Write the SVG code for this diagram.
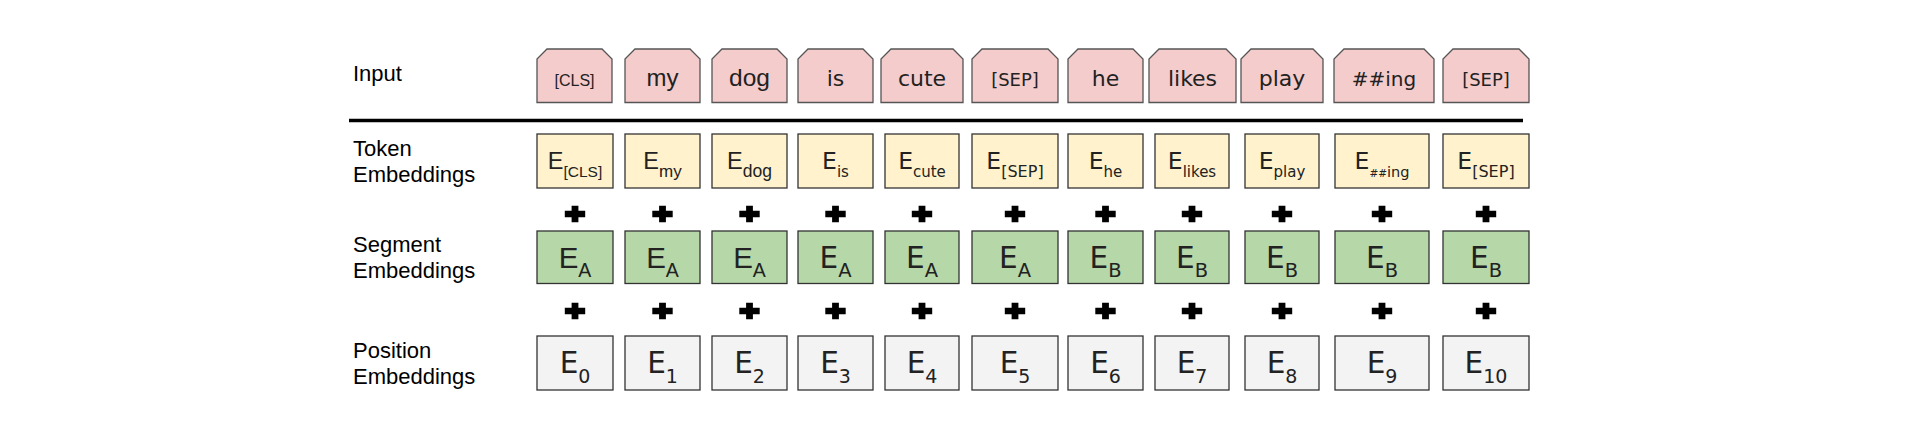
<svg xmlns="http://www.w3.org/2000/svg" xmlns:xlink="http://www.w3.org/1999/xlink" width="1918" height="422" viewBox="0 0 1918 422">
<style>
.lbl{font-family:"Liberation Sans",Arial,sans-serif;font-size:22px;fill:#000}
.inp{fill:#f4cccc;stroke:#555;stroke-width:1.3}
.tok{fill:#fff2cc;stroke:#333;stroke-width:1.3}
.seg{fill:#b6d7a8;stroke:#333;stroke-width:1.3}
.pos{fill:#f3f3f3;stroke:#333;stroke-width:1.3}
.a{font-family:"Liberation Sans",Arial,sans-serif;fill:#222;text-anchor:middle}
.d{font-family:"DejaVu Sans",Verdana,sans-serif;fill:#222;text-anchor:middle}
.w{font-size:22px}
.sep{font-size:18px}
.te{font-size:23.5px}
.ts{font-size:15px}
.ta{font-size:16px}
.se{font-size:29.5px}
.ss{font-size:19.5px}
.ps{font-size:19px}
</style>
<defs>
<path id="plus" d="M-3.4,-8.2 H3.4 V-3.3 H10.2 V3.3 H3.4 V8.2 H-3.4 V3.3 H-10.2 V-3.3 H-3.4 Z" fill="#000"/>
</defs>
<rect width="1918" height="422" fill="#fff"/>
<g id="labels">
<text class="lbl" x="353" y="81">Input</text>
<text class="lbl" x="353" y="156">Token</text>
<text class="lbl" x="353" y="182">Embeddings</text>
<text class="lbl" x="353" y="252">Segment</text>
<text class="lbl" x="353" y="278">Embeddings</text>
<text class="lbl" x="353" y="358">Position</text>
<text class="lbl" x="353" y="384">Embeddings</text>
</g>
<g id="divider"><line x1="349" y1="120.5" x2="1523" y2="120.5" stroke="#000" stroke-width="3.6"/></g>
<g id="input">
<g id="in0"><path class="inp" d="M537,102.5 V59 L547,49 H602 L612,59 V102.5 Z"/><text class="a ta" x="574.5" y="86">[CLS]</text></g>
<g id="in1"><path class="inp" d="M625,102.5 V59 L635,49 H690 L700,59 V102.5 Z"/><text class="a" style="font-size:24px" x="662.5" y="86">my</text></g>
<g id="in2"><path class="inp" d="M712,102.5 V59 L722,49 H777 L787,59 V102.5 Z"/><text class="a" style="font-size:24.5px" x="749.5" y="86">dog</text></g>
<g id="in3"><path class="inp" d="M798,102.5 V59 L808,49 H863 L873,59 V102.5 Z"/><text class="d w" x="835.5" y="86">is</text></g>
<g id="in4"><path class="inp" d="M881,102.5 V59 L891,49 H953 L963,59 V102.5 Z"/><text class="d w" x="922" y="86">cute</text></g>
<g id="in5"><path class="inp" d="M972,102.5 V59 L982,49 H1048 L1058,59 V102.5 Z"/><text class="d sep" x="1015" y="86">[SEP]</text></g>
<g id="in6"><path class="inp" d="M1068,102.5 V59 L1078,49 H1133 L1143,59 V102.5 Z"/><text class="d w" x="1105.5" y="86">he</text></g>
<g id="in7"><path class="inp" d="M1149,102.5 V59 L1159,49 H1226 L1236,59 V102.5 Z"/><text class="d w" x="1192.5" y="86">likes</text></g>
<g id="in8"><path class="inp" d="M1241,102.5 V59 L1251,49 H1313 L1323,59 V102.5 Z"/><text class="d w" x="1282" y="86">play</text></g>
<g id="in9"><path class="inp" d="M1334,102.5 V59 L1344,49 H1424 L1434,59 V102.5 Z"/><text class="d" style="font-size:20px" x="1384" y="86">##ing</text></g>
<g id="in10"><path class="inp" d="M1443,102.5 V59 L1453,49 H1519 L1529,59 V102.5 Z"/><text class="d sep" x="1486" y="86">[SEP]</text></g>
</g>
<g id="token">
<g id="tk0"><rect class="tok" x="537" y="134" width="76" height="54"/><text class="a te" x="575" y="169">E<tspan style="font-size:15.5px" dy="8">[CLS]</tspan></text></g>
<g id="tk1"><rect class="tok" x="625" y="134" width="75" height="54"/><text class="a te" x="662.5" y="169">E<tspan style="font-size:17px" dy="8">my</tspan></text></g>
<g id="tk2"><rect class="tok" x="712" y="134" width="75" height="54"/><text class="a te" x="749.5" y="169">E<tspan style="font-size:17.5px" dy="8">dog</tspan></text></g>
<g id="tk3"><rect class="tok" x="798" y="134" width="75" height="54"/><text class="d te" x="835.5" y="169">E<tspan class="ts" dy="8">is</tspan></text></g>
<g id="tk4"><rect class="tok" x="885" y="134" width="74" height="54"/><text class="d te" x="922" y="169">E<tspan class="ts" dy="8">cute</tspan></text></g>
<g id="tk5"><rect class="tok" x="972" y="134" width="86" height="54"/><text class="d te" x="1015" y="169">E<tspan style="font-size:16px" dy="8">[SEP]</tspan></text></g>
<g id="tk6"><rect class="tok" x="1068" y="134" width="75" height="54"/><text class="d te" x="1105.5" y="169">E<tspan class="ts" dy="8">he</tspan></text></g>
<g id="tk7"><rect class="tok" x="1155" y="134" width="74" height="54"/><text class="d te" x="1192" y="169">E<tspan class="ts" dy="8">likes</tspan></text></g>
<g id="tk8"><rect class="tok" x="1245" y="134" width="74" height="54"/><text class="d te" x="1282" y="169">E<tspan class="ts" dy="8">play</tspan></text></g>
<g id="tk9"><rect class="tok" x="1335" y="134" width="94" height="54"/><text class="d te" x="1382" y="169">E<tspan style="font-size:10.5px" dy="8">##</tspan><tspan style="font-size:14.5px">ing</tspan></text></g>
<g id="tk10"><rect class="tok" x="1443" y="134" width="86" height="54"/><text class="d te" x="1486" y="169">E<tspan style="font-size:16px" dy="8">[SEP]</tspan></text></g>
</g>
<g id="plus1">
<use xlink:href="#plus" x="575" y="214"/><use xlink:href="#plus" x="662.5" y="214"/><use xlink:href="#plus" x="749.5" y="214"/><use xlink:href="#plus" x="835.5" y="214"/><use xlink:href="#plus" x="922" y="214"/><use xlink:href="#plus" x="1015" y="214"/><use xlink:href="#plus" x="1105.5" y="214"/><use xlink:href="#plus" x="1192" y="214"/><use xlink:href="#plus" x="1282" y="214"/><use xlink:href="#plus" x="1382" y="214"/><use xlink:href="#plus" x="1486" y="214"/>
</g>
<g id="segment">
<g id="sg0"><rect class="seg" x="537" y="231" width="76" height="52.5"/><text class="a se" x="575" y="268">E<tspan class="ss" dy="9">A</tspan></text></g>
<g id="sg1"><rect class="seg" x="625" y="231" width="75" height="52.5"/><text class="a se" x="662.5" y="268">E<tspan class="ss" dy="9">A</tspan></text></g>
<g id="sg2"><rect class="seg" x="712" y="231" width="75" height="52.5"/><text class="a se" x="749.5" y="268">E<tspan class="ss" dy="9">A</tspan></text></g>
<g id="sg3"><rect class="seg" x="798" y="231" width="75" height="52.5"/><text class="d se" x="835.5" y="268">E<tspan class="ss" dy="9">A</tspan></text></g>
<g id="sg4"><rect class="seg" x="885" y="231" width="74" height="52.5"/><text class="d se" x="922" y="268">E<tspan class="ss" dy="9">A</tspan></text></g>
<g id="sg5"><rect class="seg" x="972" y="231" width="86" height="52.5"/><text class="d se" x="1015" y="268">E<tspan class="ss" dy="9">A</tspan></text></g>
<g id="sg6"><rect class="seg" x="1068" y="231" width="75" height="52.5"/><text class="d se" x="1105.5" y="268">E<tspan class="ss" dy="9">B</tspan></text></g>
<g id="sg7"><rect class="seg" x="1155" y="231" width="74" height="52.5"/><text class="d se" x="1192" y="268">E<tspan class="ss" dy="9">B</tspan></text></g>
<g id="sg8"><rect class="seg" x="1245" y="231" width="74" height="52.5"/><text class="d se" x="1282" y="268">E<tspan class="ss" dy="9">B</tspan></text></g>
<g id="sg9"><rect class="seg" x="1335" y="231" width="94" height="52.5"/><text class="d se" x="1382" y="268">E<tspan class="ss" dy="9">B</tspan></text></g>
<g id="sg10"><rect class="seg" x="1443" y="231" width="86" height="52.5"/><text class="d se" x="1486" y="268">E<tspan class="ss" dy="9">B</tspan></text></g>
</g>
<g id="plus2">
<use xlink:href="#plus" x="575" y="311"/><use xlink:href="#plus" x="662.5" y="311"/><use xlink:href="#plus" x="749.5" y="311"/><use xlink:href="#plus" x="835.5" y="311"/><use xlink:href="#plus" x="922" y="311"/><use xlink:href="#plus" x="1015" y="311"/><use xlink:href="#plus" x="1105.5" y="311"/><use xlink:href="#plus" x="1192" y="311"/><use xlink:href="#plus" x="1282" y="311"/><use xlink:href="#plus" x="1382" y="311"/><use xlink:href="#plus" x="1486" y="311"/>
</g>
<g id="position">
<g id="ps0"><rect class="pos" x="537" y="336" width="76" height="54"/><text class="d se" x="575" y="373">E<tspan class="ps" dy="9.5">0</tspan></text></g>
<g id="ps1"><rect class="pos" x="625" y="336" width="75" height="54"/><text class="d se" x="662.5" y="373">E<tspan class="ps" dy="9.5">1</tspan></text></g>
<g id="ps2"><rect class="pos" x="712" y="336" width="75" height="54"/><text class="d se" x="749.5" y="373">E<tspan class="ps" dy="9.5">2</tspan></text></g>
<g id="ps3"><rect class="pos" x="798" y="336" width="75" height="54"/><text class="d se" x="835.5" y="373">E<tspan class="ps" dy="9.5">3</tspan></text></g>
<g id="ps4"><rect class="pos" x="885" y="336" width="74" height="54"/><text class="d se" x="922" y="373">E<tspan class="ps" dy="9.5">4</tspan></text></g>
<g id="ps5"><rect class="pos" x="972" y="336" width="86" height="54"/><text class="d se" x="1015" y="373">E<tspan class="ps" dy="9.5">5</tspan></text></g>
<g id="ps6"><rect class="pos" x="1068" y="336" width="75" height="54"/><text class="d se" x="1105.5" y="373">E<tspan class="ps" dy="9.5">6</tspan></text></g>
<g id="ps7"><rect class="pos" x="1155" y="336" width="74" height="54"/><text class="d se" x="1192" y="373">E<tspan class="ps" dy="9.5">7</tspan></text></g>
<g id="ps8"><rect class="pos" x="1245" y="336" width="74" height="54"/><text class="d se" x="1282" y="373">E<tspan class="ps" dy="9.5">8</tspan></text></g>
<g id="ps9"><rect class="pos" x="1335" y="336" width="94" height="54"/><text class="d se" x="1382" y="373">E<tspan class="ps" dy="9.5">9</tspan></text></g>
<g id="ps10"><rect class="pos" x="1443" y="336" width="86" height="54"/><text class="d se" x="1486" y="373">E<tspan class="ps" dy="9.5">10</tspan></text></g>
</g>
</svg>
